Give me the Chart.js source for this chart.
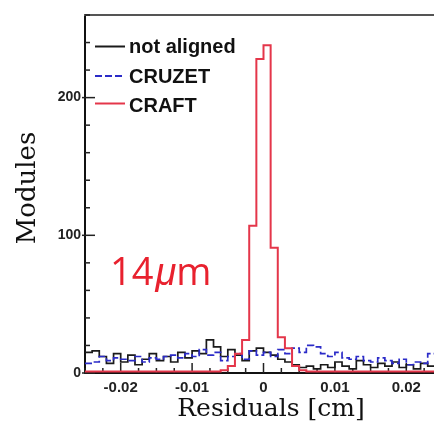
<!DOCTYPE html>
<html><head><meta charset="utf-8">
<script src="https://cdn.jsdelivr.net/npm/chart.js@4/dist/chart.umd.min.js"></script>
<style>html,body{margin:0;padding:0;background:#fff;overflow:hidden;}#wrap{width:442px;height:427px;}</style>
</head><body><div id="wrap"><canvas id="c" width="442" height="427"></canvas></div>
<script>
// Histogram binning (cm)
const binStart = -0.025;
const binWidth = 0.001;
// Counts per bin (50 bins from -0.025 to 0.025)
const notAligned = [15,16,12,7,14,8,13,6,10,14, 9,12,8,15,11,16,14,24,19,12, 17,13,9,16,18,15,13,10,8,6, 4,5,3,6,4,8,5,3,9,6, 4,7,5,8,4,6,3,7,5,6];
const cruzet     = [7,8,12,9,11,10,9,12,8,11, 10,12,13,11,14,12,17,13,15,9, 12,14,10,16,13,15,12,17,14,18, 15,20,19,14,12,15,11,10,12,9, 8,11,9,7,10,6,8,7,14,12];
const craft      = [1,1,1,1,1,1,1,1,1,1, 1,1,1,1,1,1,1,1,1,2, 5,14,24,107,228,238,91,26,18,5, 2,1,1,1,1,1,1,1,1,1, 1,1,1,1,1,1,1,1,1,1];
const seriesLabels = ['not aligned', 'CRUZET', 'CRAFT'];
const xTickValues = [-0.02, -0.01, 0, 0.01, 0.02];
const yTickValues = [0, 100, 200];
const xTitle = 'Residuals [cm]';
const yTitle = 'Modules';
const peakNote = ['14', 'μ', 'm'];

function stepPoints(vals) {
  const pts = vals.map((v, i) => ({x: +(binStart + i * binWidth).toFixed(4), y: v}));
  pts.push({x: +(binStart + vals.length * binWidth).toFixed(4), y: vals[vals.length - 1]});
  return pts;
}

const colors = ['#1a1a1a', '#2b2bc8', '#e4364a'];
const dashes = [[], [7, 3], []];

const overlay = {
  id: 'overlay',
  beforeDatasetsDraw(chart) {
    const ctx = chart.ctx, a = chart.chartArea;
    const xs = chart.scales.x, ys = chart.scales.y;
    ctx.save();
    // top frame
    ctx.strokeStyle = '#555'; ctx.lineWidth = 2;
    ctx.beginPath(); ctx.moveTo(a.left - 1, a.top); ctx.lineTo(a.right, a.top); ctx.stroke();
    // inward ticks
    ctx.strokeStyle = '#222'; ctx.lineWidth = 1.5;
    for (let v = 0; v <= 260; v += 20) {
      const y = ys.getPixelForValue(v);
      const major = v % 100 === 0;
      ctx.beginPath(); ctx.moveTo(a.left - (major ? 3 : 0), y); ctx.lineTo(a.left + (major ? 10 : 5), y); ctx.stroke();
    }
    for (let k = 0; k <= 20; k++) {
      const v = -0.025 + k * 0.0025;
      const x = xs.getPixelForValue(v);
      const major = (k % 4) === 2;
      ctx.beginPath(); ctx.moveTo(x, a.bottom); ctx.lineTo(x, a.bottom - (major ? 10 : 5)); ctx.stroke();
    }
    // axis titles
    ctx.fillStyle = '#111';
    ctx.font = '25px "DejaVu Serif", serif';
    ctx.textAlign = 'center'; ctx.textBaseline = 'middle';
    ctx.fillText(xTitle, 271, 409);
    ctx.save();
    ctx.translate(28, 188); ctx.rotate(-Math.PI / 2);
    ctx.font = '26px "DejaVu Serif", serif';
    ctx.fillText(yTitle, 0, 0);
    ctx.restore();
    ctx.restore();
  },
  afterDatasetsDraw(chart) {
    const ctx = chart.ctx;
    ctx.save();
    // legend
    const lineY = [46.5, 76, 103.5];
    const baseY = [53, 83, 111.5];
    chart.data.datasets.forEach((ds, i) => {
      ctx.strokeStyle = ds.borderColor; ctx.lineWidth = 2;
      ctx.setLineDash(ds.borderDash || []);
      ctx.beginPath(); ctx.moveTo(95, lineY[i]); ctx.lineTo(125, lineY[i]); ctx.stroke();
      ctx.setLineDash([]);
      ctx.fillStyle = '#111';
      ctx.font = 'bold 20px "Liberation Sans", Arial, sans-serif';
      ctx.textBaseline = 'alphabetic'; ctx.textAlign = 'left';
      ctx.fillText(ds.label, 129, baseY[i]);
    });
    // peak width note
    ctx.fillStyle = '#e8212e';
    ctx.textBaseline = 'alphabetic';
    let x = 110;
    const by = 285;
    ctx.font = '38px "Open Sans", "Liberation Sans", sans-serif';
    ctx.fillText(peakNote[0], x, by); x += ctx.measureText(peakNote[0]).width + 2;
    ctx.font = 'italic 38px "Liberation Sans", sans-serif';
    ctx.fillText(peakNote[1], x, by); x += ctx.measureText(peakNote[1]).width;
    ctx.font = '38px "Open Sans", "Liberation Sans", sans-serif';
    ctx.fillText(peakNote[2], x, by);
    ctx.restore();
  }
};

const seriesData = [notAligned, cruzet, craft];
new Chart(document.getElementById('c'), {
  type: 'line',
  data: {
    datasets: seriesData.map((vals, i) => ({
      label: seriesLabels[i],
      data: stepPoints(vals),
      stepped: 'before',
      borderColor: colors[i],
      borderDash: dashes[i],
      borderWidth: i === 2 ? 2 : 1.7,
      pointRadius: 0,
      fill: false,
      order: i === 2 ? 0 : (i === 1 ? 1 : 2)
    }))
  },
  options: {
    responsive: false,
    animation: false,
    layout: {padding: {left: 0, right: 0, top: 15, bottom: 0}},
    plugins: {legend: {display: false}, tooltip: {enabled: false}},
    scales: {
      x: {
        type: 'linear', min: -0.025, max: 0.025,
        afterFit: s => { s.height = 54; },
        afterBuildTicks: s => { s.ticks = xTickValues.map(v => ({value: v})); },
        grid: {display: false, drawTicks: false, tickLength: 0},
        border: {display: true, color: '#111', width: 2},
        ticks: {
          callback: v => String(v),
          font: {family: '"Liberation Sans", Arial, sans-serif', size: 15, weight: 'bold'},
          color: '#222', padding: 6, maxRotation: 0, autoSkip: false
        },
        title: {display: false}
      },
      y: {
        type: 'linear', min: 0, max: 260,
        afterFit: s => { s.width = 85; },
        afterBuildTicks: s => { s.ticks = yTickValues.map(v => ({value: v})); },
        grid: {display: false, drawTicks: false, tickLength: 0},
        border: {display: true, color: '#111', width: 2},
        ticks: {
          font: {family: '"Liberation Sans", Arial, sans-serif', size: 14, weight: 'bold'},
          color: '#222', padding: 4
        },
        title: {display: false}
      }
    }
  },
  plugins: [overlay]
});
</script>
</body></html>
